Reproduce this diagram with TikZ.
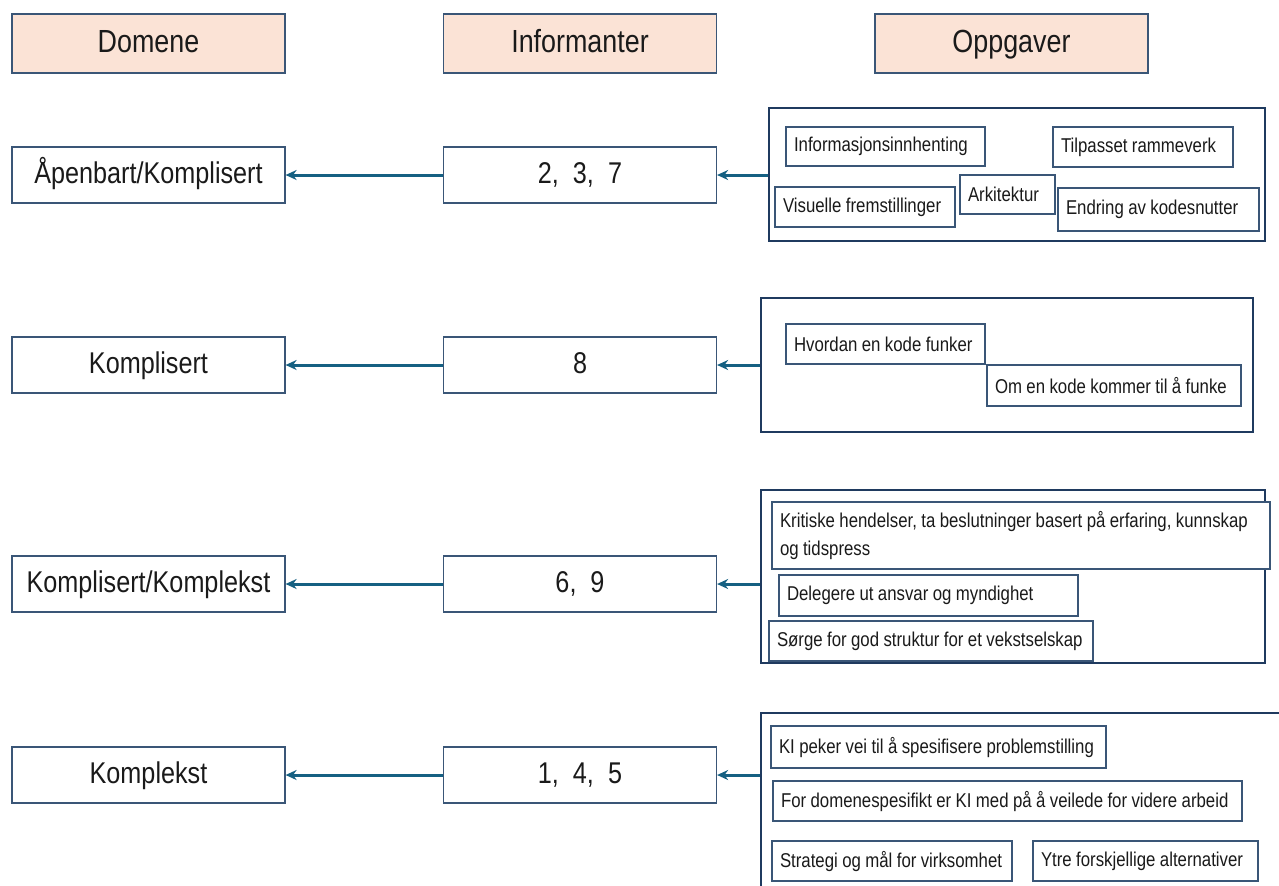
\documentclass[tikz,border=0pt]{standalone}
\usepackage{fontspec}
\setmainfont[FakeStretch=0.84]{Liberation Sans}
\usepackage{tikz}
\usetikzlibrary{arrows.meta}
\definecolor{head-fill}{HTML}{FBE3D6}
\definecolor{box-line}{HTML}{3A5677}
\definecolor{group-line}{HTML}{1F3A5F}
\definecolor{arrow-blue}{HTML}{156082}
\definecolor{ink}{HTML}{1A1A1A}
\newcommand\narrowsp{\spaceskip=0.22em plus 0.05em minus 0.05em\xspaceskip=0.25em\hyphenpenalty=10000}

\begin{document}
\begin{tikzpicture}[x=0.5pt, y=-0.5pt,
  every node/.style={text=ink},
  head/.style={draw=box-line, line width=0.6pt, fill=head-fill, minimum width=136.5pt, minimum height=29.5pt, text height=11.5pt, text depth=3pt, font={\fontsize{16}{19}\selectfont}},
  dom/.style={draw=box-line, line width=0.6pt, fill=white, minimum width=136.5pt, minimum height=28pt, text height=11pt, text depth=3pt, font={\fontsize{15}{18}\selectfont}},
  group/.style={draw=group-line, line width=1.2pt},
  task/.style={draw=box-line, line width=0.6pt, fill=white, inner xsep=4pt, inner ysep=0pt, align=flush left, font={\fontsize{10}{14}\selectfont\narrowsp}},
  arr/.style={draw=arrow-blue, line width=1.5pt, -{Stealth[length=5.5pt, width=5pt]}}]
 \useasboundingbox (0,0) rectangle (1279,885);
 % headers
 \node[head] (hdom) at (148.5,43.5) {Domene};
 \node[head] (hinf) at (580,43.5) {Informanter};
 \node[head] (hopp) at (1011.5,43.5) {Oppgaver};
 % domains
 \node[dom] (d1) at (148.5,175) {Åpenbart/Komplisert};
 \node[dom] (d2) at (148.5,365) {Komplisert};
 \node[dom] (d3) at (148.5,584) {Komplisert/Komplekst};
 \node[dom] (d4) at (148.5,775) {Komplekst};
 % informants
 \node[dom] (i1) at (580,175) {2,\ \ 3,\ \ 7};
 \node[dom] (i2) at (580,365) {8};
 \node[dom] (i3) at (580,584) {6,\ \ 9};
 \node[dom] (i4) at (580,775) {1,\ \ 4,\ \ 5};
 % task groups
 \node[group, minimum width=248pt, minimum height=66.5pt] (g1) at (1017,174.5) {};
 \node[group, minimum width=246pt, minimum height=67pt] (g2) at (1007,365) {};
 \node[group, minimum width=252pt, minimum height=86.5pt] (g3) at (1013,576.5) {};
 \node[group, minimum width=269.5pt, minimum height=93.5pt] (g4) at (1030.5,806.5) {};
 % tasks
 \node[task, text width=91.5pt, minimum height=19.5pt] (t11) at (885.5,146.5) {Informasjonsinnhenting};
 \node[task, text width=82pt, minimum height=20pt] (t12) at (1143,147) {Tilpasset rammeverk};
 \node[task, text width=82pt, minimum height=20pt] (t13) at (865,207) {Visuelle fremstillinger};
 \node[task, text width=39.5pt, minimum height=19.5pt] (t14) at (1007.5,194.5) {Arkitektur};
 \node[task, text width=92.5pt, minimum height=21.5pt] (t15) at (1158.5,209.5) {Endring av kodesnutter};
 \node[task, text width=91.5pt, minimum height=20pt] (t21) at (885.5,344) {Hvordan en kode funker};
 \node[task, text width=119pt, minimum height=20.5pt] (t22) at (1114,385.5) {Om en kode kommer til å funke};
 \node[task, text width=241pt, minimum height=33.5pt] (t31) at (1021,535.5) {Kritiske hendelser, ta beslutninger basert på erfaring, kunnskap\\og tidspress};
 \node[task, text width=141.5pt, minimum height=20.5pt] (t32) at (928.5,595.5) {Delegere ut ansvar og myndighet};
 \node[task, text width=154pt, minimum height=20pt] (t33) at (931,641) {Sørge for god struktur for et vekstselskap};
 \node[task, text width=159.5pt, minimum height=21pt] (t41) at (938.5,747) {KI peker vei til å spesifisere problemstilling};
 \node[task, text width=226.5pt, minimum height=20pt] (t42) at (1007.5,801) {For domenespesifikt er KI med på å veilede for videre arbeid};
 \node[task, text width=112pt, minimum height=20pt] (t43) at (892,861) {Strategi og mål for virksomhet};
 \node[task, text width=104.5pt, minimum height=20pt] (t44) at (1145.5,861) {Ytre forskjellige alternativer};
 % arrows
 \foreach \n in {1,2,3,4}{
  \draw[arr] (i\n.west) -- (d\n.east);
  \draw[arr] (i\n.east -| g\n.west) -- (i\n.east);
 }
\end{tikzpicture}
\end{document}
